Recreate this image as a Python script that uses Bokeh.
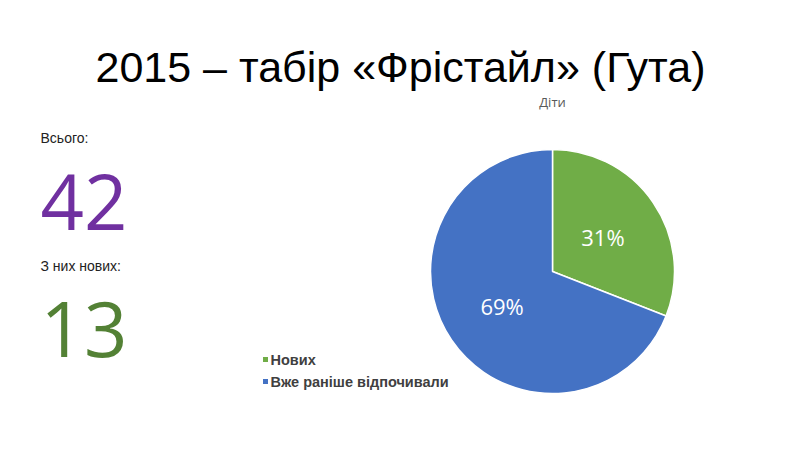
import math
from bokeh.plotting import figure
from bokeh.models import Range1d
from bokeh.core.properties import value
from bokeh.embed import file_html
from bokeh.resources import INLINE

# ---- data ----
title_text = "2015 – табір «Фрістайл» (Гута)"
chart_title = "Діти"
categories = ["Нових", "Вже раніше відпочивали"]
counts = [13, 29]
colors = ["#70AD47", "#4472C4"]
total_label = "Всього:"
new_label = "З них нових:"
total_value = 42
new_value = 13

W, H = 784, 434
p = figure(width=W, height=H, x_range=Range1d(0, 784), y_range=Range1d(16, 450),
           output_backend="svg", toolbar_location=None, min_border=0)
p.axis.visible = False
p.grid.visible = False
p.outline_line_color = None
p.background_fill_color = "white"
p.border_fill_color = "white"

def Y(py):
    return 450 - py

# Title
p.text(x=[400], y=[Y(66)], text=[title_text], text_font=value("Liberation Sans"),
       text_font_size="43px", text_color="#000000", text_align="center", text_baseline="middle")

# Left side stats
p.text(x=[40], y=[Y(137)], text=[total_label], text_font=value("Liberation Sans"),
       text_font_size="14px", text_color="#222222", text_align="left", text_baseline="middle")
p.text(x=[40], y=[Y(201)], text=[str(total_value)], text_font=value("Open Sans"),
       text_font_size="76px", text_color="#7030A0", text_align="left", text_baseline="middle")
p.text(x=[40], y=[Y(265)], text=[new_label], text_font=value("Liberation Sans"),
       text_font_size="14px", text_color="#222222", text_align="left", text_baseline="middle")
p.text(x=[40], y=[Y(328)], text=[str(new_value)], text_font=value("Open Sans"),
       text_font_size="76px", text_color="#538135", text_align="left", text_baseline="middle")

# Chart title
cx, cy, R = 552, Y(271), 122
p.text(x=[cx], y=[Y(101)], text=[chart_title], text_font=value("Open Sans"),
       text_font_size="13px", text_color="#595959", text_align="center", text_baseline="middle")

# Pie: start at top, clockwise
tot = sum(counts)
ang = math.pi / 2
starts, ends, lx, ly, labels = [], [], [], [], []
for c in counts:
    sweep = 2 * math.pi * c / tot
    a_end = ang
    a_start = ang - sweep
    starts.append(a_start)
    ends.append(a_end)
    mid = (a_start + a_end) / 2
    lx.append(cx + 0.5 * R * math.cos(mid))
    ly.append(cy + 0.5 * R * math.sin(mid))
    labels.append(f"{round(100 * c / tot)}%")
    ang = a_start

p.wedge(x=cx, y=cy, radius=R, radius_units="screen", start_angle=starts, end_angle=ends,
        fill_color=colors, line_color="white", line_width=1.5)
p.text(x=lx, y=ly, text=labels, text_font=value("Open Sans"), text_font_size="22px",
       text_color="white", text_align="center", text_baseline="middle")

# Legend
leg_y = [Y(359), Y(381)]
p.scatter(x=[265, 265], y=leg_y, marker="square", size=5, fill_color=colors, line_color=None)
p.text(x=[270, 270], y=leg_y, text=categories, text_font=value("Liberation Sans"),
       text_font_size="14.5px", text_font_style="bold", text_color="#404040",
       text_align="left", text_baseline="middle")

open("out.html", "w").write(file_html(p, INLINE))
